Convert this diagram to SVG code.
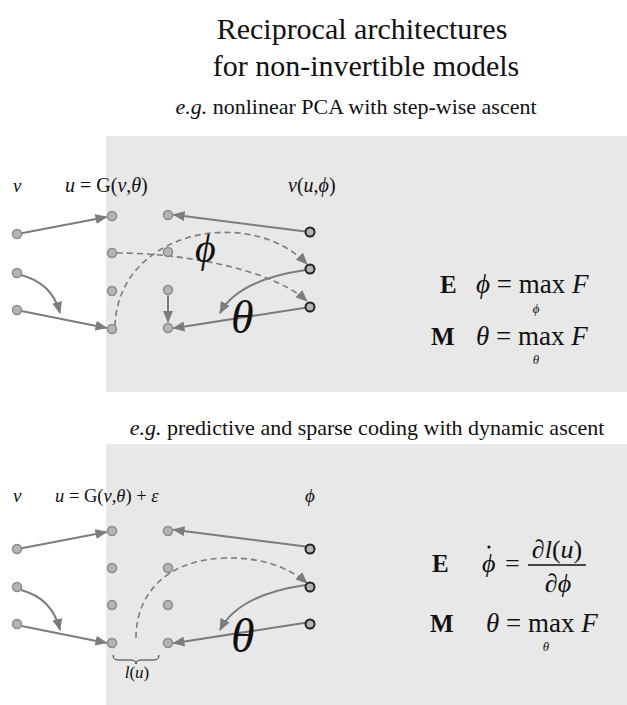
<svg xmlns="http://www.w3.org/2000/svg" width="627" height="705" viewBox="0 0 627 705">
<defs>
<style>
.t{font-family:"Liberation Serif","Times New Roman",serif;fill:#111}
.i{font-style:italic}
.b{font-weight:bold}
.panel{fill:#e8e8e8}
.n{fill:#b4b4b4;stroke:#8a8a8a;stroke-width:1.5}
.nd{fill:#b4b4b4;stroke:#222;stroke-width:2}
.e{fill:none;stroke:#7c7c7c;stroke-width:2;marker-end:url(#ah)}
.d{fill:none;stroke:#7c7c7c;stroke-width:1.6;stroke-dasharray:6 4;marker-end:url(#ah)}
</style>
<marker id="ah" markerUnits="userSpaceOnUse" markerWidth="12" markerHeight="10" refX="11" refY="5" orient="auto">
<path d="M0,0 L12,5 L0,10 z" fill="#7c7c7c"/>
</marker>
</defs>
<rect width="627" height="705" fill="#fff"/>
<rect class="panel" x="106" y="136" width="521" height="256"/>
<rect class="panel" x="106" y="444" width="521" height="261"/>

<g id="titles">
<text class="t" x="362" y="39" font-size="30" text-anchor="middle">Reciprocal architectures</text>
<text class="t" x="366" y="76" font-size="30" text-anchor="middle">for non-invertible models</text>
<text class="t" x="356" y="114" font-size="22" text-anchor="middle"><tspan class="i">e.g.</tspan> nonlinear PCA with step-wise ascent</text>
<text class="t" x="367" y="435" font-size="22" text-anchor="middle"><tspan class="i">e.g.</tspan> predictive and sparse coding with dynamic ascent</text>
</g>

<g id="connectors">
<!-- top panel -->
<path class="e" d="M21.5,233.2 L106.5,217"/>
<path class="e" d="M21,275 Q52,283 60,313"/>
<path class="e" d="M21.4,310.9 L106.5,327.9"/>
<path class="e" d="M305.5,231.4 L173.5,214.7"/>
<path class="e" d="M168,295.5 L168,322"/>
<path class="e" d="M305.5,307.7 L173.4,328.2"/>
<path class="e" d="M305.5,270 Q238,280 220,313"/>
<path class="d" d="M117,253 C180,253 270,268 307,301"/>
<path class="d" d="M115,326 C118,230 250,205 307,264"/>
<!-- bottom panel -->
<path class="e" d="M21.5,548.2 L106.5,532"/>
<path class="e" d="M21,590 Q52,598 60,630"/>
<path class="e" d="M21.4,625.9 L106.5,642.9"/>
<path class="e" d="M305.5,546.4 L173.5,529.7"/>
<path class="e" d="M305.5,622.7 L173.4,643.2"/>
<path class="e" d="M305.5,585 Q238,595 220,630"/>
<path class="d" d="M136,638 C136,595 165,560 225,558 C262,557 290,568 307,583"/>
</g>

<g id="top-nodes">
<circle class="n" cx="17" cy="234" r="4.5"/>
<circle class="n" cx="17" cy="273" r="4.5"/>
<circle class="n" cx="17" cy="310" r="4.5"/>
<circle class="n" cx="112" cy="216" r="4.5"/>
<circle class="n" cx="112" cy="253" r="4.5"/>
<circle class="n" cx="112" cy="291" r="4.5"/>
<circle class="n" cx="112" cy="329" r="4.5"/>
<circle class="n" cx="168" cy="215" r="4.5"/>
<circle class="n" cx="168" cy="252" r="4.5"/>
<circle class="n" cx="168" cy="290" r="4.5"/>
<circle class="n" cx="168" cy="328" r="4.5"/>
<circle class="nd" cx="310" cy="232" r="4.5"/>
<circle class="nd" cx="310" cy="269" r="4.5"/>
<circle class="nd" cx="310" cy="307" r="4.5"/>
</g>

<g id="bottom-nodes">
<circle class="n" cx="17" cy="549" r="4.5"/>
<circle class="n" cx="17" cy="587" r="4.5"/>
<circle class="n" cx="17" cy="624" r="4.5"/>
<circle class="n" cx="112" cy="531" r="4.5"/>
<circle class="n" cx="112" cy="568" r="4.5"/>
<circle class="n" cx="112" cy="605" r="4.5"/>
<circle class="n" cx="112" cy="643" r="4.5"/>
<circle class="n" cx="168" cy="531" r="4.5"/>
<circle class="n" cx="168" cy="568" r="4.5"/>
<circle class="n" cx="168" cy="605" r="4.5"/>
<circle class="n" cx="168" cy="643" r="4.5"/>
<circle class="nd" cx="310" cy="549" r="4.5"/>
<circle class="nd" cx="310" cy="587" r="4.5"/>
<circle class="nd" cx="310" cy="624" r="4.5"/>
</g>

<g id="top-labels">
<text class="t i" x="13" y="192" font-size="19">v</text>
<text class="t" x="65" y="192" font-size="20"><tspan class="i">u</tspan> = G(<tspan class="i">v</tspan>,<tspan class="i">θ</tspan>)</text>
<text class="t" x="288" y="192" font-size="20"><tspan class="i">v</tspan>(<tspan class="i">u</tspan>,<tspan class="i">ϕ</tspan>)</text>
<text class="t i" x="195" y="262" font-size="40">ϕ</text>
<text class="t i" x="231" y="333" font-size="46">θ</text>
</g>

<g id="top-equations">
<text class="t b" x="440" y="293" font-size="25">E</text>
<text class="t" x="476" y="293" font-size="27"><tspan class="i">ϕ</tspan> = max <tspan class="i">F</tspan></text>
<text class="t i" x="536" y="313" font-size="13" text-anchor="middle">ϕ</text>
<text class="t b" x="431" y="345" font-size="25">M</text>
<text class="t" x="476" y="345" font-size="27"><tspan class="i">θ</tspan> = max <tspan class="i">F</tspan></text>
<text class="t i" x="536" y="364" font-size="13" text-anchor="middle">θ</text>
</g>

<g id="bottom-labels">
<text class="t i" x="13" y="502" font-size="19">v</text>
<text class="t" x="55" y="502" font-size="18.5"><tspan class="i">u</tspan> = G(<tspan class="i">v</tspan>,<tspan class="i">θ</tspan>) + <tspan class="i">ε</tspan></text>
<text class="t i" x="305" y="502" font-size="19">ϕ</text>
<text class="t i" x="231" y="652" font-size="48">θ</text>
<path d="M113,655 Q113,660 118,660 L131,660 Q136,660 136,664 Q136,660 141,660 L154,660 Q159,660 159,655" fill="none" stroke="#333" stroke-width="1"/>
<text class="t" x="137" y="678" font-size="17" text-anchor="middle"><tspan class="i">l</tspan>(<tspan class="i">u</tspan>)</text>
</g>

<g id="bottom-equations">
<text class="t b" x="432" y="572" font-size="25">E</text>
<text class="t i" x="482" y="572" font-size="26">ϕ</text>
<circle cx="489" cy="547" r="1.6" fill="#111"/>
<text class="t" x="505" y="572" font-size="26">=</text>
<text class="t" x="557" y="558" font-size="26" text-anchor="middle">∂<tspan class="i">l</tspan>(<tspan class="i">u</tspan>)</text>
<line x1="528" y1="565" x2="586" y2="565" stroke="#111" stroke-width="1.3"/>
<text class="t" x="558" y="592" font-size="26" text-anchor="middle">∂<tspan class="i">ϕ</tspan></text>
<text class="t b" x="430" y="632" font-size="25">M</text>
<text class="t" x="486" y="632" font-size="27"><tspan class="i">θ</tspan> = max <tspan class="i">F</tspan></text>
<text class="t i" x="546" y="651" font-size="13" text-anchor="middle">θ</text>
</g>
</svg>
